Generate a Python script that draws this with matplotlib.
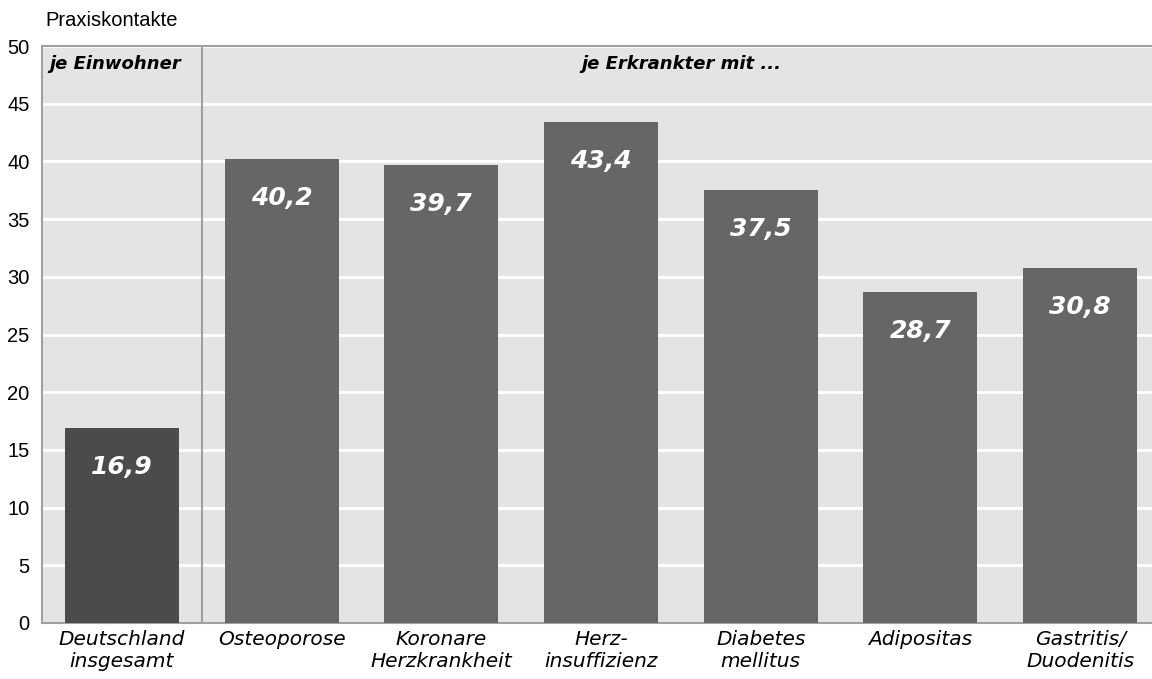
import matplotlib
matplotlib.use("Agg")
import matplotlib.pyplot as plt
from matplotlib import font_manager

categories = ["Deutschland\ninsgesamt", "Osteoporose", "Koronare\nHerzkrankheit",
              "Herz-\ninsuffizienz", "Diabetes\nmellitus", "Adipositas",
              "Gastritis/\nDuodenitis"]
values = [16.9, 40.2, 39.7, 43.4, 37.5, 28.7, 30.8]
value_labels = ["16,9", "40,2", "39,7", "43,4", "37,5", "28,7", "30,8"]
yticks = [0, 5, 10, 15, 20, 25, 30, 35, 40, 45, 50]

names = {f.name for f in font_manager.fontManager.ttflist}
narrow = "Liberation Sans Narrow" if "Liberation Sans Narrow" in names else "Liberation Sans"
plt.rcParams["font.family"] = [narrow, "DejaVu Sans"]

fig = plt.figure(figsize=(11.52, 6.79), dpi=100)
ax = fig.add_axes([42 / 1152, 56 / 679, 1118 / 1152, 577 / 679])
ax.set_facecolor("#e4e4e4")

x = list(range(len(values)))
colors = ["#4b4b4b"] + ["#666666"] * (len(values) - 1)
ax.bar(x, values, width=0.714, color=colors, zorder=3)

ax.set_xlim(-0.5, 6.5)
ax.set_ylim(0, 50)
ax.set_yticks(yticks)
ax.set_yticklabels([str(t) for t in yticks], fontsize=14.5)
ax.yaxis.grid(True, color="white", linewidth=2, zorder=1)
ax.set_axisbelow(True)
ax.tick_params(axis="y", length=0, pad=9)
ax.tick_params(axis="x", length=0, pad=5)
ax.set_xticks(x)
ax.set_xticklabels(categories, fontsize=14.5, style="italic", family="DejaVu Sans",
                   linespacing=1.2)

for side in ["left", "bottom", "top"]:
    ax.spines[side].set_color("#a0a0a0")
    ax.spines[side].set_linewidth(1.5)
ax.spines["right"].set_visible(False)

ax.axvline(0.5, color="#a0a0a0", linewidth=1.5, zorder=4)

for xi, v, lab in zip(x, values, value_labels):
    ax.text(xi, v - 3.4, lab, ha="center", va="center", color="white",
            fontsize=18, style="italic", fontweight="semibold", family="DejaVu Sans", zorder=5)

ax.text(-0.04, 48.4, "je Einwohner", ha="center", va="center", fontsize=13,
        style="italic", fontweight="semibold", family="DejaVu Sans")
ax.text(3.5, 48.4, "je Erkrankter mit ...", ha="center", va="center", fontsize=13,
        style="italic", fontweight="semibold", family="DejaVu Sans")

fig.text(45 / 1152, 1 - 20 / 679, "Praxiskontakte", ha="left", va="center", fontsize=14.5)

fig.savefig("out.png", dpi=100)
